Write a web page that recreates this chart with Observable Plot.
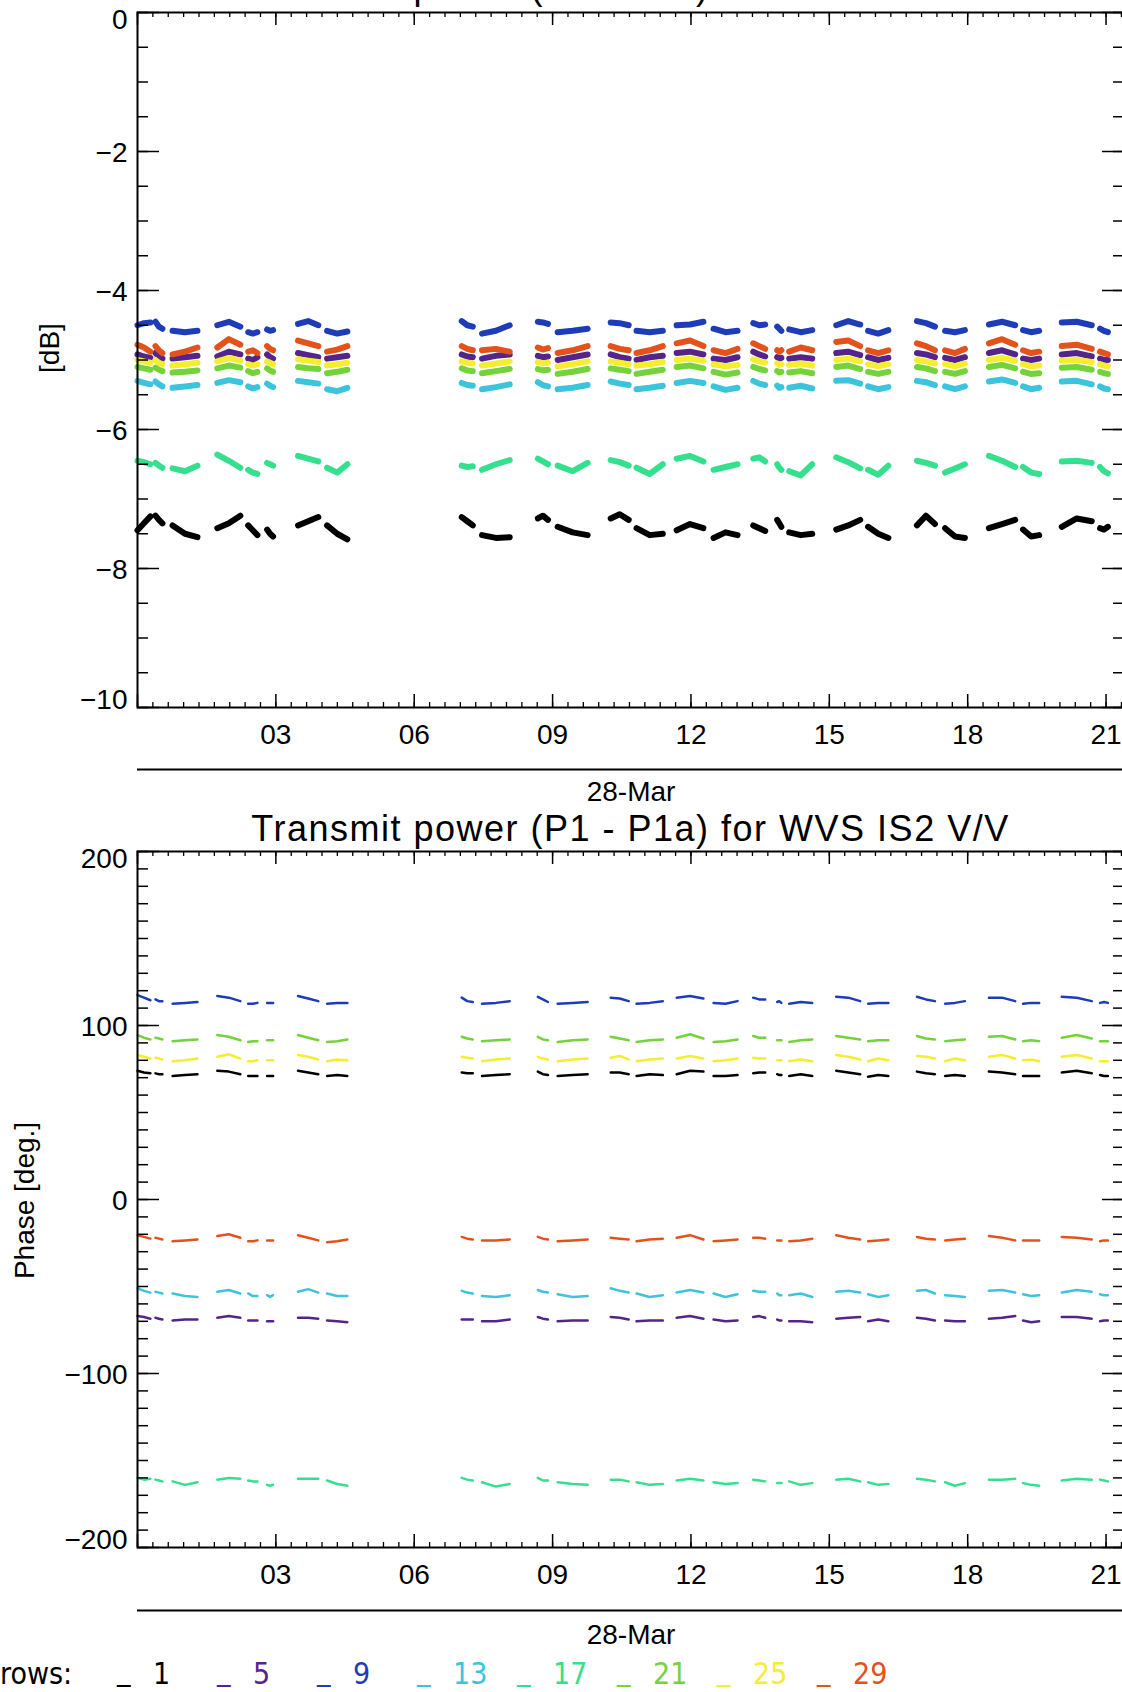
<!DOCTYPE html>
<html><head><meta charset="utf-8">
<script src="https://cdn.jsdelivr.net/npm/d3@7"></script>
<script src="https://cdn.jsdelivr.net/npm/@observablehq/plot@0.6"></script>
<style>
html,body{margin:0;padding:0;background:#fff;overflow:hidden}
#wrap{position:relative;width:1122px;height:1692px;overflow:hidden;background:#fff;font-family:"Liberation Sans",Arial,sans-serif;color:#000}
.abs{position:absolute;white-space:pre;line-height:1}
.title{font-size:36px;letter-spacing:1.5px;left:137px;width:987px;text-align:center;z-index:5;line-height:0.8}
.svgbox{position:absolute;left:0}
.leg{font-size:30px;font-family:"Liberation Sans Narrow","DejaVu Sans Condensed","Liberation Sans",sans-serif;z-index:5}
</style></head><body><div id="wrap"></div>
<script>
// ---- data ----
const titleText = "Transmit power (P1 - P1a) for WVS IS2 V/V";
const dateLabel = "28-Mar";
const rows = [1, 5, 9, 13, 17, 21, 25, 29];
const rowColors = ["#000000", "#54248a", "#1e3cb8", "#3cc4dc", "#34e08e", "#74d23a", "#f4ee30", "#e4521c"];
const xMajor = [3, 6, 9, 12, 15, 18, 21];
const xLabels = ["03", "06", "09", "12", "15", "18", "21"];
const ampTicks = [0, -2, -4, -6, -8, -10];
const ampLabels = ["0", "\u22122", "\u22124", "\u22126", "\u22128", "\u221210"];
const phaseTicks = [200, 100, 0, -100, -200];
const phaseLabels = ["200", "100", "0", "\u2212100", "\u2212200"];

// data segments (hours of 28-Mar)
const segStart = [0.00,0.39,0.76,1.73,2.40,2.81,3.48,4.11,7.03,7.47,8.68,9.11,10.26,10.82,11.69,12.49,13.35,13.87,14.13,15.15,15.84,16.90,17.51,18.46,19.20,20.04,20.87];
const segEnd   = [0.28,0.54,1.30,2.23,2.60,2.94,3.92,4.55,7.27,8.07,8.90,9.76,10.65,11.39,12.27,13.01,13.61,13.96,14.63,15.67,16.28,17.29,17.94,19.03,19.55,20.69,21.04];

// amplitude [dB], three samples per segment (start, middle, end)
const amp1 = [-7.45,-7.35,-7.25, -7.24,-7.30,-7.35, -7.38,-7.50,-7.55, -7.42,-7.35,-7.24, -7.38,-7.45,-7.52, -7.44,-7.50,-7.54, -7.38,-7.32,-7.26, -7.38,-7.50,-7.58, -7.26,-7.32,-7.38, -7.52,-7.56,-7.55, -7.28,-7.24,-7.30, -7.40,-7.48,-7.52, -7.28,-7.22,-7.30, -7.42,-7.52,-7.50, -7.45,-7.36,-7.42, -7.56,-7.48,-7.52, -7.38,-7.42,-7.46, -7.30,-7.35,-7.40, -7.48,-7.52,-7.50, -7.44,-7.38,-7.30, -7.40,-7.50,-7.56, -7.38,-7.24,-7.36, -7.42,-7.54,-7.56, -7.42,-7.36,-7.30, -7.44,-7.54,-7.52, -7.40,-7.28,-7.32, -7.42,-7.44,-7.40];
const amp5 = [-4.92,-4.95,-4.97, -4.90,-4.95,-4.98, -4.98,-4.96,-4.94, -4.95,-4.88,-4.92, -4.98,-5.00,-4.96, -4.92,-4.96,-4.98, -4.90,-4.93,-4.96, -4.98,-4.96,-4.94, -4.92,-4.95,-4.96, -4.98,-4.94,-4.92, -4.94,-4.96,-4.95, -5.00,-4.96,-4.92, -4.92,-4.96,-4.98, -5.00,-4.96,-4.94, -4.90,-4.88,-4.92, -4.98,-5.00,-4.96, -4.88,-4.92,-4.95, -4.96,-4.98,-4.97, -4.98,-4.96,-4.98, -4.90,-4.88,-4.93, -4.96,-5.00,-4.97, -4.90,-4.92,-4.96, -4.97,-5.00,-4.96, -4.90,-4.86,-4.92, -4.98,-5.00,-4.98, -4.92,-4.90,-4.95, -4.98,-5.00,-5.00];
const amp9 = [-4.50,-4.47,-4.46, -4.45,-4.52,-4.55, -4.58,-4.60,-4.58, -4.50,-4.45,-4.52, -4.60,-4.62,-4.60, -4.56,-4.58,-4.57, -4.48,-4.44,-4.50, -4.58,-4.62,-4.59, -4.44,-4.50,-4.52, -4.62,-4.58,-4.50, -4.45,-4.46,-4.48, -4.60,-4.58,-4.55, -4.46,-4.47,-4.50, -4.58,-4.60,-4.58, -4.50,-4.49,-4.45, -4.55,-4.60,-4.58, -4.47,-4.50,-4.49, -4.52,-4.55,-4.58, -4.56,-4.60,-4.57, -4.50,-4.44,-4.49, -4.58,-4.62,-4.57, -4.44,-4.47,-4.52, -4.58,-4.60,-4.57, -4.49,-4.45,-4.50, -4.57,-4.60,-4.58, -4.46,-4.45,-4.50, -4.55,-4.58,-4.60];
const amp13 = [-5.30,-5.33,-5.35, -5.31,-5.35,-5.38, -5.40,-5.38,-5.36, -5.33,-5.29,-5.32, -5.38,-5.41,-5.39, -5.34,-5.37,-5.39, -5.30,-5.32,-5.34, -5.42,-5.45,-5.40, -5.33,-5.36,-5.37, -5.42,-5.39,-5.35, -5.32,-5.36,-5.38, -5.42,-5.40,-5.36, -5.31,-5.34,-5.36, -5.42,-5.40,-5.37, -5.33,-5.30,-5.33, -5.38,-5.43,-5.40, -5.30,-5.34,-5.36, -5.37,-5.40,-5.39, -5.40,-5.37,-5.41, -5.30,-5.29,-5.34, -5.38,-5.42,-5.39, -5.30,-5.32,-5.36, -5.38,-5.42,-5.38, -5.31,-5.28,-5.33, -5.38,-5.42,-5.40, -5.31,-5.30,-5.35, -5.38,-5.41,-5.42];
const amp17 = [-6.45,-6.47,-6.50, -6.48,-6.52,-6.55, -6.56,-6.60,-6.52, -6.36,-6.45,-6.55, -6.58,-6.62,-6.64, -6.48,-6.50,-6.52, -6.38,-6.42,-6.46, -6.55,-6.62,-6.50, -6.52,-6.54,-6.53, -6.58,-6.50,-6.44, -6.42,-6.46,-6.50, -6.52,-6.60,-6.48, -6.44,-6.47,-6.52, -6.55,-6.64,-6.50, -6.42,-6.38,-6.46, -6.58,-6.54,-6.50, -6.42,-6.40,-6.46, -6.50,-6.55,-6.58, -6.60,-6.66,-6.50, -6.40,-6.47,-6.56, -6.58,-6.65,-6.52, -6.45,-6.48,-6.52, -6.62,-6.56,-6.50, -6.38,-6.45,-6.54, -6.54,-6.62,-6.64, -6.46,-6.45,-6.48, -6.54,-6.60,-6.63];
const amp21 = [-5.10,-5.12,-5.14, -5.11,-5.14,-5.16, -5.18,-5.17,-5.15, -5.12,-5.08,-5.11, -5.16,-5.19,-5.17, -5.12,-5.15,-5.17, -5.10,-5.12,-5.13, -5.19,-5.17,-5.14, -5.12,-5.15,-5.16, -5.19,-5.16,-5.13, -5.13,-5.15,-5.14, -5.20,-5.17,-5.13, -5.12,-5.14,-5.16, -5.20,-5.17,-5.14, -5.10,-5.08,-5.12, -5.17,-5.21,-5.18, -5.10,-5.13,-5.15, -5.16,-5.18,-5.17, -5.18,-5.16,-5.19, -5.10,-5.08,-5.13, -5.17,-5.20,-5.17, -5.10,-5.12,-5.16, -5.17,-5.20,-5.16, -5.10,-5.07,-5.12, -5.17,-5.20,-5.19, -5.11,-5.10,-5.14, -5.17,-5.19,-5.20];
const amp25 = [-5.00,-5.02,-5.04, -5.00,-5.04,-5.06, -5.08,-5.06,-5.04, -5.02,-4.97,-5.01, -5.06,-5.08,-5.06, -5.02,-5.04,-5.06, -4.99,-5.01,-5.03, -5.08,-5.06,-5.04, -5.02,-5.04,-5.05, -5.08,-5.05,-5.02, -5.03,-5.05,-5.04, -5.09,-5.06,-5.02, -5.02,-5.04,-5.06, -5.08,-5.06,-5.03, -5.00,-4.98,-5.01, -5.06,-5.09,-5.07, -4.99,-5.02,-5.04, -5.05,-5.07,-5.06, -5.07,-5.05,-5.08, -5.00,-4.98,-5.02, -5.06,-5.09,-5.06, -5.00,-5.02,-5.05, -5.06,-5.09,-5.05, -5.00,-4.97,-5.01, -5.06,-5.09,-5.08, -5.01,-5.00,-5.03, -5.06,-5.08,-5.09];
const amp29 = [-4.78,-4.82,-4.88, -4.80,-4.86,-4.90, -4.92,-4.88,-4.82, -4.82,-4.70,-4.78, -4.88,-4.86,-4.90, -4.80,-4.84,-4.86, -4.72,-4.76,-4.80, -4.88,-4.85,-4.80, -4.80,-4.84,-4.86, -4.86,-4.84,-4.88, -4.82,-4.85,-4.83, -4.90,-4.86,-4.80, -4.80,-4.84,-4.86, -4.90,-4.86,-4.80, -4.76,-4.72,-4.80, -4.86,-4.90,-4.84, -4.76,-4.80,-4.84, -4.86,-4.88,-4.86, -4.88,-4.82,-4.86, -4.74,-4.72,-4.80, -4.86,-4.90,-4.86, -4.76,-4.80,-4.86, -4.86,-4.90,-4.84, -4.76,-4.70,-4.78, -4.86,-4.90,-4.88, -4.80,-4.78,-4.84, -4.88,-4.90,-4.92];

// phase [deg.], three samples per segment
const ph1 = [74,73,72.5, 72.5,72,72, 71,71.5,72, 74,73.5,72, 71,71,71, 71,71,71, 74,73,72, 71,71.5,71, 73,72.5,72.5, 71,71.5,72, 73.5,72,71.5, 71,71.5,72, 73,73,72, 71,72,71.5, 72,74,73.5, 71,71,71.5, 72.5,73,73, 72,71.5,71.5, 71,72,71, 74,73,72, 70.5,71.5,71, 73.5,72.5,72, 71,71.5,71, 73.5,73,72, 71,71,71, 73,74,72.5, 71.5,71,71];
const ph5 = [-67,-67.5,-68.5, -68,-68.5,-69, -69.5,-69,-69, -68,-67,-68, -69.5,-69.5,-69.5, -70,-70,-70, -68,-68,-68.5, -69.5,-70,-70.5, -69,-69,-69, -70,-70,-69, -67.5,-68.5,-69, -70,-69.5,-69.5, -67.5,-68,-69, -70,-69.5,-69.5, -68,-67,-68.5, -69,-70,-69.5, -67.5,-67,-68, -69,-69.5,-69.5, -70,-70,-70.5, -68.5,-68,-67.5, -70,-69,-70, -68,-68.5,-69.5, -69.5,-70,-70, -68.5,-68,-67, -69.5,-70.5,-70, -67.5,-67.5,-68.5, -70,-69.5,-69.5];
const ph9 = [117.5,116,114.5, 115,114,114, 112.5,113,113.5, 117,116,114, 112.5,112.5,113, 113,113,113, 117,115.5,114, 112.5,113,113, 116,114,113.5, 112.5,113,114, 116.5,115,113.5, 112.5,113,113.5, 116,115.5,114, 112.5,113,114, 116,117,115.5, 113,112.5,114, 116,115,115, 113.5,114,113, 112.5,113.5,113, 116.5,116,114, 112.5,113,113, 116.5,115,114, 112.5,113,114, 116,116,114, 112.5,113,113, 116.5,116,114, 113,113.5,113];
const ph13 = [-51,-52.5,-53.5, -53,-53.5,-54, -54,-55.5,-56, -53,-52,-54, -54,-55.5,-55.5, -55,-56,-55, -53,-51.5,-53.5, -54,-55.5,-55.5, -52.5,-53.5,-54, -55.5,-56,-55, -52,-53,-53.5, -54.5,-56,-55.5, -51,-52.5,-53.5, -54,-56,-55, -53.5,-52,-53.5, -54,-56,-54.5, -52.5,-53,-53, -54,-55,-55, -55,-54,-56, -53,-52.5,-53.5, -54.5,-56,-55, -52.5,-52,-54, -55,-55.5,-56, -52.5,-52,-53.5, -54.5,-55.5,-55, -53.5,-52,-53, -54.5,-55,-55];
const ph17 = [-160,-161,-160.5, -161,-161.5,-162, -162,-164,-162.5, -161,-160,-160.5, -161.5,-162,-162, -164,-164.5,-164, -160.5,-160.5,-160.5, -161.5,-163.5,-164.5, -160,-161,-161.5, -162.5,-165,-163.5, -160,-161.5,-161.5, -162.5,-163.5,-164, -161,-161,-162, -162.5,-164,-163.5, -161.5,-160.5,-161.5, -162.5,-163.5,-163, -161,-161.5,-162, -163,-163,-163, -162,-164,-163, -161,-160.5,-162, -162.5,-164,-163.5, -160.5,-161,-162, -162.5,-164.5,-163, -161,-161,-160.5, -163,-164,-164.5, -161.5,-160.5,-161, -161,-161.5,-162];
const ph21 = [94.5,93,92, 93,92.5,92, 91,91.5,92, 94.5,93.5,91.5, 90.5,91,91, 91.5,91.5,91.5, 94.5,93,91.5, 90.5,91,92, 93.5,92.5,92, 91,91.5,92, 93.5,92,91.5, 90.5,91.5,92, 93.5,92.5,91.5, 90.5,91.5,92, 93,95,92.5, 90.5,91,92, 94,93,93, 91.5,91.5,91.5, 90.5,91.5,92, 94,93,92, 91,91.5,91.5, 94,92.5,92, 91,91.5,92, 93.5,94,92, 91,91.5,91, 93,94.5,92.5, 91,91,91];
const ph25 = [83,82,81, 81.5,81,80.5, 79.5,80,81, 82,83.5,81, 79.5,79.5,80, 80,80,80, 83,82,80.5, 79.5,80.5,80, 82,81.5,81, 79.5,80.5,81, 82,81,80.5, 79.5,80.5,81, 81.5,82.5,80.5, 79.5,80.5,81, 81,82.5,81, 79.5,80,81, 81.5,81,81, 80,80,80, 79.5,80.5,79.5, 83,82,80.5, 79.5,81,80, 82.5,82,81, 79.5,81,80, 82,83,81, 80,80.5,79.5, 82,83,81, 79.5,79.5,79.5];
const ph29 = [-20.5,-21.5,-22.5, -22,-22.5,-23, -24,-23.5,-23, -21,-20,-22, -24,-24,-23.5, -23.5,-23.5,-23.5, -20.5,-22,-23.5, -24.5,-24,-23, -21.5,-22.5,-23, -23.5,-23.5,-23, -21.5,-22.5,-23, -24,-23.5,-23, -22,-22.5,-23, -24,-23,-22.5, -22,-20.5,-23, -24,-23.5,-23, -22,-22,-22.5, -23.5,-23.5,-23.5, -24,-23.5,-22.5, -20.5,-22,-23, -24,-23.5,-23, -21.5,-22.5,-23, -23.5,-23,-22.5, -21,-22,-23.5, -23.5,-23.5,-23.5, -21.5,-22,-23, -24,-23.5,-23.5];

const ampValues = [amp1, amp5, amp9, amp13, amp17, amp21, amp25, amp29];
const phaseValues = [ph1, ph5, ph9, ph13, ph17, ph21, ph25, ph29];

// ---- drawing ----
const FONT = "'Liberation Sans', Arial, sans-serif";
const wrap = document.getElementById("wrap");

function panel(o) {
  const W = 1122 - 137 + 2;
  const H = o.height - o.mt - o.mb;
  const recs = [];
  rows.forEach((r, ri) => {
    const v = o.values[ri];
    segStart.forEach((s, si) => {
      const e = segEnd[si];
      [s, (s + e) / 2, e].forEach((t, k) => recs.push({row: r, seg: si, t, v: v[si * 3 + k]}));
    });
  });
  const xMinor = d3.range(0, 21.4, 1 / 3);
  const xTicks = d3.range(0, 22, 3);
  const yMinor = d3.range(o.domain[0], o.domain[1] + o.minorStep / 2, o.minorStep);
  const lab = o.major.map((d, i) => ({v: d, l: o.labels[i]}));
  const fs = 28;
  return Plot.plot({
    width: 1122, height: o.height,
    marginLeft: 137, marginRight: -2, marginTop: o.mt, marginBottom: o.mb,
    x: {domain: [0, 21.4], axis: null},
    y: {domain: o.domain, axis: null},
    style: {fontFamily: FONT, fontSize: fs + "px", color: "black", background: "transparent"},
    marks: [
      ...rows.map((r, ri) => Plot.line(recs.filter(d => d.row === r),
        {x: "t", y: "v", z: "seg", stroke: rowColors[ri], strokeWidth: o.sw})),
      Plot.frame({stroke: "black", strokeWidth: 2}),
      Plot.ruleX(xMinor, {x: d => d, insetTop: H - 5, strokeWidth: 1.3}),
      Plot.ruleX(xMinor, {x: d => d, insetBottom: H - 5, strokeWidth: 1.3}),
      Plot.ruleX(xTicks, {x: d => d, insetTop: H - 13, strokeWidth: 1.5}),
      Plot.ruleX(xTicks, {x: d => d, insetBottom: H - 13, strokeWidth: 1.5}),
      Plot.ruleY(yMinor, {y: d => d, insetRight: W - 11, strokeWidth: 1.5}),
      Plot.ruleY(yMinor, {y: d => d, insetLeft: W - 11, strokeWidth: 1.5}),
      Plot.ruleY(o.major, {y: d => d, insetRight: W - 22, strokeWidth: 1.5}),
      Plot.ruleY(o.major, {y: d => d, insetLeft: W - 22, strokeWidth: 1.5}),
      Plot.text(xMajor, {x: d => d, text: (d, i) => xLabels[i], frameAnchor: "bottom", lineAnchor: "middle", dy: o.xlabDy, fontSize: fs}),
      Plot.text(lab.slice(0, 1), {y: "v", text: "l", frameAnchor: "left", lineAnchor: "middle", dx: -10, textAnchor: "end", dy: 8, fontSize: fs}),
      Plot.text(lab.slice(1, -1), {y: "v", text: "l", frameAnchor: "left", lineAnchor: "middle", dx: -10, textAnchor: "end", dy: 2, fontSize: fs}),
      Plot.text(lab.slice(-1), {y: "v", text: "l", frameAnchor: "left", lineAnchor: "middle", dx: -10, textAnchor: "end", dy: -7, fontSize: fs}),
      Plot.ruleY([o.domain[0]], {dy: o.lineDy, strokeWidth: 2}),
      Plot.text([dateLabel], {text: d => d, frameAnchor: "bottom", lineAnchor: "middle", dy: o.dateDy, fontSize: fs}),
      Plot.text([o.ytitle], {text: d => d, frameAnchor: "left", textAnchor: "middle", lineAnchor: "middle", rotate: -90, dx: o.ytdx, dy: o.ytdy, fontSize: fs})
    ]
  });
}

function place(el, top) {
  const box = document.createElement("div");
  box.className = "svgbox";
  box.style.top = top + "px";
  box.appendChild(el);
  wrap.appendChild(box);
}

place(panel({values: ampValues, domain: [-10, 0], major: ampTicks, labels: ampLabels, minorStep: 0.5,
  height: 815, mt: 12, mb: 108, sw: 6, lineDy: 62, xlabDy: 28, dateDy: 85, ytitle: "[dB]", ytdx: -87, ytdy: -12}), 0);
place(panel({values: phaseValues, domain: [-200, 200], major: phaseTicks, labels: phaseLabels, minorStep: 10,
  height: 877, mt: 36, mb: 145, sw: 2.5, lineDy: 63, xlabDy: 28, dateDy: 88, ytitle: "Phase [deg.]", ytdx: -112, ytdy: 1}), 815);

function addText(txt, cls, left, baseline, fs, color, ascentEm) {
  const d = document.createElement("div");
  d.className = "abs " + cls;
  d.textContent = txt;
  d.style.top = (baseline - (ascentEm || 0.8465) * fs) + "px";
  if (left !== null) d.style.left = left + "px";
  if (color) d.style.color = color;
  wrap.appendChild(d);
  return d;
}
// title line-height 0.8em -> baseline sits 0.7465em below the box top
addText(titleText, "title", null, 0, 36, null, 0.7465);
addText(titleText, "title", null, 842, 36, null, 0.7465);

// legend
addText("rows:", "leg", 0, 1684, 30, "#000");
rows.forEach((r, i) => {
  const x = 117 + 100 * i;
  addText("_", "leg", x, 1680, 30, rowColors[i]);
  addText(String(r), "leg", x + 36, 1684, 30, rowColors[i]);
});
</script></body></html>
